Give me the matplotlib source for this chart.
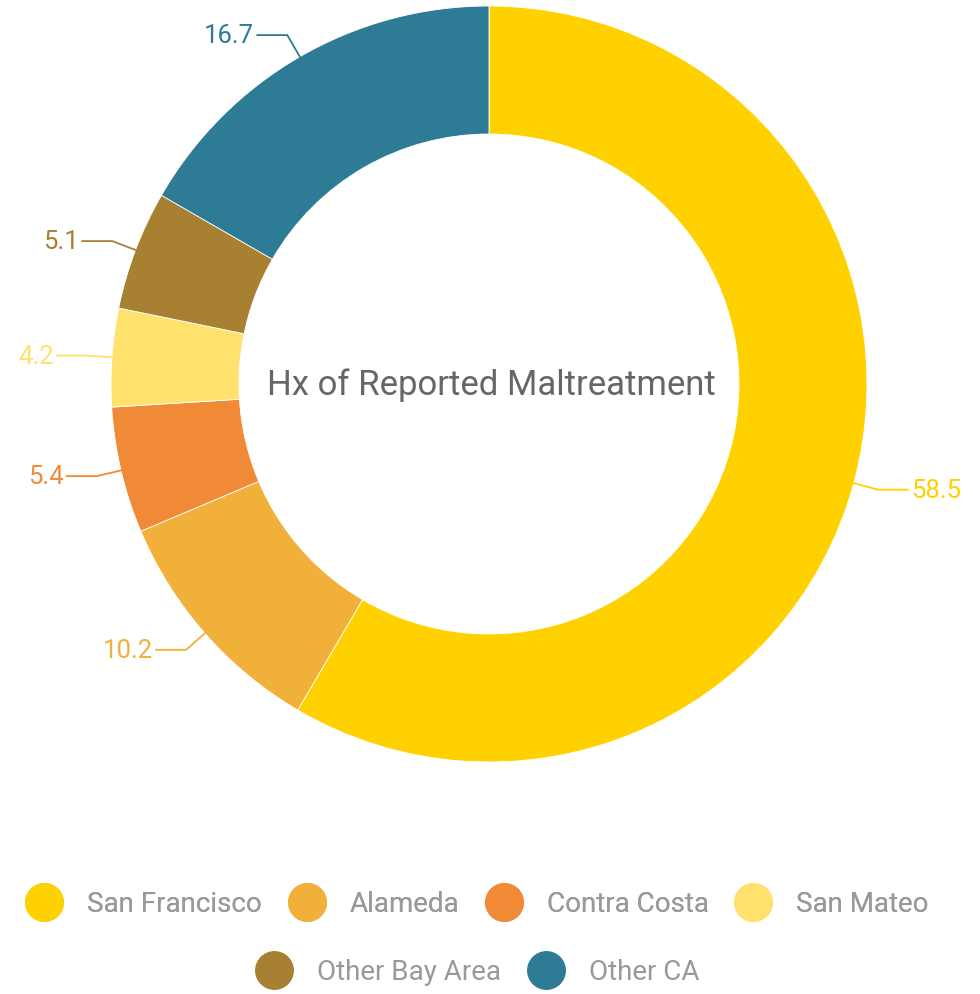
import numpy as np
import matplotlib.pyplot as plt
from matplotlib.lines import Line2D

counties = ['San Francisco', 'Alameda', 'Contra Costa', 'San Mateo', 'Other Bay Area', 'Other CA']
pct = [58.5, 10.2, 5.4, 4.2, 5.1, 16.7]
colors = ['#FFD100', '#F0B03A', '#F08A37', '#FFE26E', '#A88032', '#2E7B96']
center_title = 'Hx of Reported Maltreatment'

fonts = ['Liberation Sans Narrow', 'Roboto', 'DejaVu Sans']

fig = plt.figure(figsize=(9.8, 9.95), dpi=100)
ax = fig.add_axes([0, 0, 1, 1])

cx, cy = 489, 610
R = 378
ax.pie(pct, colors=colors, startangle=90, counterclock=False, radius=R,
       center=(cx, cy), wedgeprops=dict(width=128, edgecolor='white', linewidth=0.6))
ax.set_xlim(0, 980)
ax.set_ylim(0, 995)
ax.set_aspect('equal')
ax.axis('off')

# leader lines + value labels
frac = np.cumsum(pct) / np.sum(pct)
mids = frac - np.array(pct) / np.sum(pct) / 2
for v, m, c in zip(pct, mids, colors):
    th = np.deg2rad(90 - m * 360)
    ux, uy = np.cos(th), np.sin(th)
    p0 = (cx + R * ux, cy + R * uy)
    p1 = (cx + (R + 25) * ux, cy + (R + 25) * uy)
    s = 1 if ux > 0 else -1
    p2 = (p1[0] + s * 30, p1[1])
    ax.plot([p0[0], p1[0], p2[0]], [p0[1], p1[1], p2[1]], color=c, lw=1.3)
    ax.text(p2[0] + s * 3, p2[1], f'{v}', color=c, fontsize=18.5, family=fonts,
            ha='left' if s > 0 else 'right', va='center')

ax.text(cx + 2, cy, center_title, ha='center', va='center', fontsize=25,
        color='#666666', family=fonts)

def handles(names, cols):
    return [Line2D([], [], ls='', marker='o', markersize=27, color=c, label=n)
            for n, c in zip(names, cols)]

leg_kw = dict(loc='center', frameon=False, prop={'family': fonts, 'size': 20},
              labelcolor='#999999', handletextpad=0.95, columnspacing=1.0,
              handlelength=1.2)
leg1 = fig.legend(handles=handles(counties[:4], colors[:4]), ncol=4,
                  bbox_to_anchor=(0.488, 1 - 905 / 995), **leg_kw)
leg2 = fig.legend(handles=handles(counties[4:], colors[4:]), ncol=2,
                  bbox_to_anchor=(0.488, 1 - 973 / 995), **leg_kw)
fig.add_artist(leg1)

fig.savefig('out.png', dpi=100, facecolor='white')
